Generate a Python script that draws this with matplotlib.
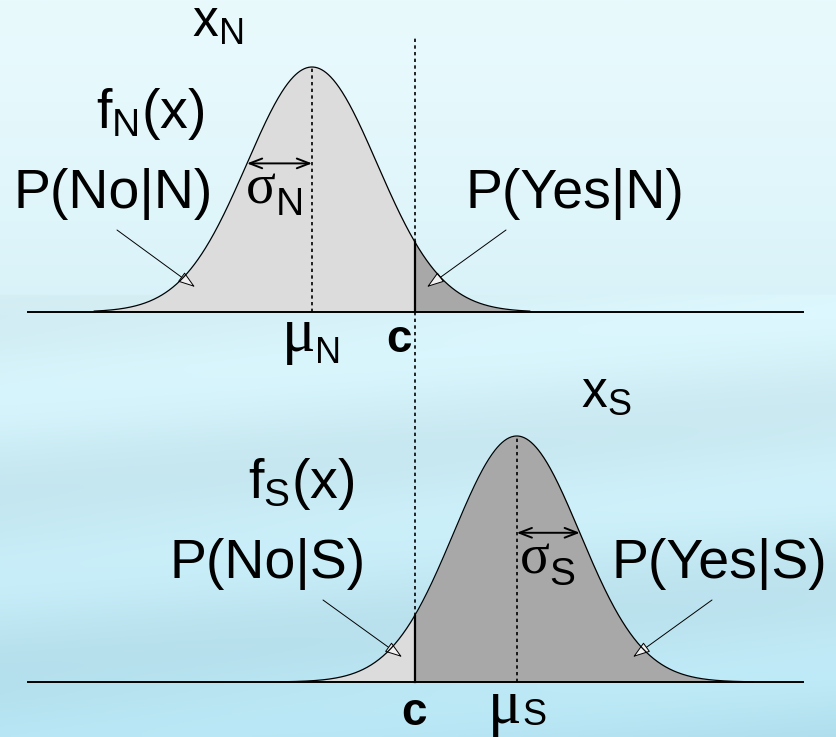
import numpy as np
import matplotlib
matplotlib.use('Agg')
import matplotlib.pyplot as plt
from matplotlib.patches import FancyArrowPatch

plt.rcParams['font.family'] = ['Liberation Sans', 'DejaVu Sans']
plt.rcParams['mathtext.fontset'] = 'custom'
plt.rcParams['mathtext.rm'] = 'Liberation Sans'

# model values (x in units of sigma_N, heights relative to peak)
mu_n, sigma_n = 0.0, 1.0
mu_s, sigma_s = 3.15, 0.97
c = 1.58
tail_n = 3.35
tail_s = 3.75

def bell(x, mu, sd):
    return np.exp(-0.5 * ((x - mu) / sd) ** 2)

W, H = 836, 737
fig = plt.figure(figsize=(W / 100, H / 100), dpi=100)

# background gradient
bg = fig.add_axes([0, 0, 1, 1])
bg.set_axis_off()
yy = np.linspace(0, 1, 300)[:, None]
xx = np.linspace(0, 1, 300)[None, :]
top_c = np.array([233, 250, 253]) / 255
bot_c = np.array([180, 226, 240]) / 255
t = yy ** 1.3 + 0 * xx
band = 0.04 * np.sin(yy * 26 + xx * 3) * (yy > 0.4)
img = top_c[None, None, :] * (1 - t[..., None]) + bot_c[None, None, :] * t[..., None]
img = np.clip(img + band[..., None] * 0.5, 0, 1)
bg.imshow(img, aspect='auto', extent=[0, 1, 1, 0])
bg.set_xlim(0, 1)
bg.set_ylim(1, 0)

xlim = (-312 / 65, 524 / 65)
ax1 = fig.add_axes([0, 367 / 737, 1, 370 / 737])
ax1.set_xlim(*xlim)
ax1.set_ylim(-58 / 245, 312 / 245)
ax2 = fig.add_axes([0, 0, 1, 367 / 737])
ax2.set_xlim(*xlim)
ax2.set_ylim(-55 / 246, 312 / 246)
for a in (ax1, ax2):
    a.set_axis_off()
    a.patch.set_alpha(0)

light = '#dcdcdc'
dark = '#a8a8a8'
fs = 40

def panel(ax, mu, sd, tail, left_col, right_col):
    x = np.linspace(mu - tail * sd, mu + tail * sd, 600)
    y = bell(x, mu, sd)
    ax.fill_between(x, 0, y, where=x <= c, color=left_col, lw=0, interpolate=True)
    ax.fill_between(x, 0, y, where=x >= c, color=right_col, lw=0, interpolate=True)
    ax.plot(x, y, color='black', lw=0.9)
    ax.plot([xlim[0] + 0.43, xlim[0] + 12.35], [0, 0], color='black', lw=1.4)
    ax.plot([c, c], [0, bell(c, mu, sd)], color='black', lw=1.6)
    ax.plot([mu, mu], [0, 1], color='black', lw=1.2, ls=(0, (2, 2)))
    ax.annotate('', xy=(mu - sd if mu < c else mu + sd, bell(mu - sd, mu, sd)),
                xytext=(mu, bell(mu - sd, mu, sd)),
                arrowprops=dict(arrowstyle='<->,head_length=0.9,head_width=0.35',
                                color='black', lw=1.4, shrinkA=0, shrinkB=0))
    return x, y

panel(ax1, mu_n, sigma_n, tail_n, light, dark)
panel(ax2, mu_s, sigma_s, tail_s, light, dark)

# decision criterion line
ax1.plot([c, c], [bell(c, mu_n, sigma_n), 1.12], color='black', lw=1.2, ls=(0, (2, 2)))
ax1.plot([c, c], [0, -0.24], color='black', lw=1.2, ls=(0, (2, 2)), clip_on=False)
ax2.plot([c, c], [bell(c, mu_s, sigma_s), 1.27], color='black', lw=1.2, ls=(0, (2, 2)))

def pointer(ax, start, end):
    ax.add_patch(FancyArrowPatch(start, end,
                                 arrowstyle='-|>,head_length=0.9,head_width=0.3',
                                 mutation_scale=12, lw=0.7, ec='black', fc='#f0f0f0',
                                 shrinkA=0, shrinkB=0))

def px(xp):
    return (xp - 312) / 65

pointer(ax1, (px(117), (312 - 230) / 245), (px(195), (312 - 287) / 245))
pointer(ax1, (px(506), (312 - 230) / 245), (px(427), (312 - 287) / 245))
pointer(ax2, (px(323), (682 - 600) / 246), (px(402), (682 - 657) / 246))
pointer(ax2, (px(712), (682 - 600) / 246), (px(633), (682 - 657) / 246))

# labels
def lab(ax, xp, yv, s, size=fs, **kw):
    ax.text(px(xp), yv, s, fontsize=size, ha='left', va='baseline', **kw)

def ty(yp):
    return (312 - yp) / 245

def by(yp):
    return (682 - yp) / 246

lab(ax1, 192, ty(37), r'$\mathregular{x_N}$', size=37)
lab(ax1, 96, ty(128), r'$\mathregular{f_N(x)}$')
lab(ax1, 13, ty(208), 'P(No|N)')
lab(ax1, 465, ty(208), 'P(Yes|N)')
lab(ax1, 246, ty(203), 'σ', family='Liberation Serif')
lab(ax1, 276, ty(215), 'N', size=28)
lab(ax1, 282, ty(351), 'μ', size=45, family='Liberation Serif')
lab(ax1, 315, ty(363), 'N', size=26)
lab(ax1, 386, ty(352), 'c', size=33, weight='bold')

lab(ax2, 581, by(407), r'$\mathregular{x_S}$', size=37)
lab(ax2, 248, by(498), r'$\mathregular{f_S(x)}$')
lab(ax2, 170, by(578), 'P(No|S)')
lab(ax2, 611, by(578), 'P(Yes|S)')
lab(ax2, 520, by(573), 'σ', family='Liberation Serif')
lab(ax2, 549, by(585), 'S', size=28)
lab(ax2, 488, by(723), 'μ', size=45, family='Liberation Serif')
lab(ax2, 522, by(725), 'S', size=26)
lab(ax2, 401, by(725), 'c', size=33, weight='bold')

fig.savefig('out.png', dpi=100)
